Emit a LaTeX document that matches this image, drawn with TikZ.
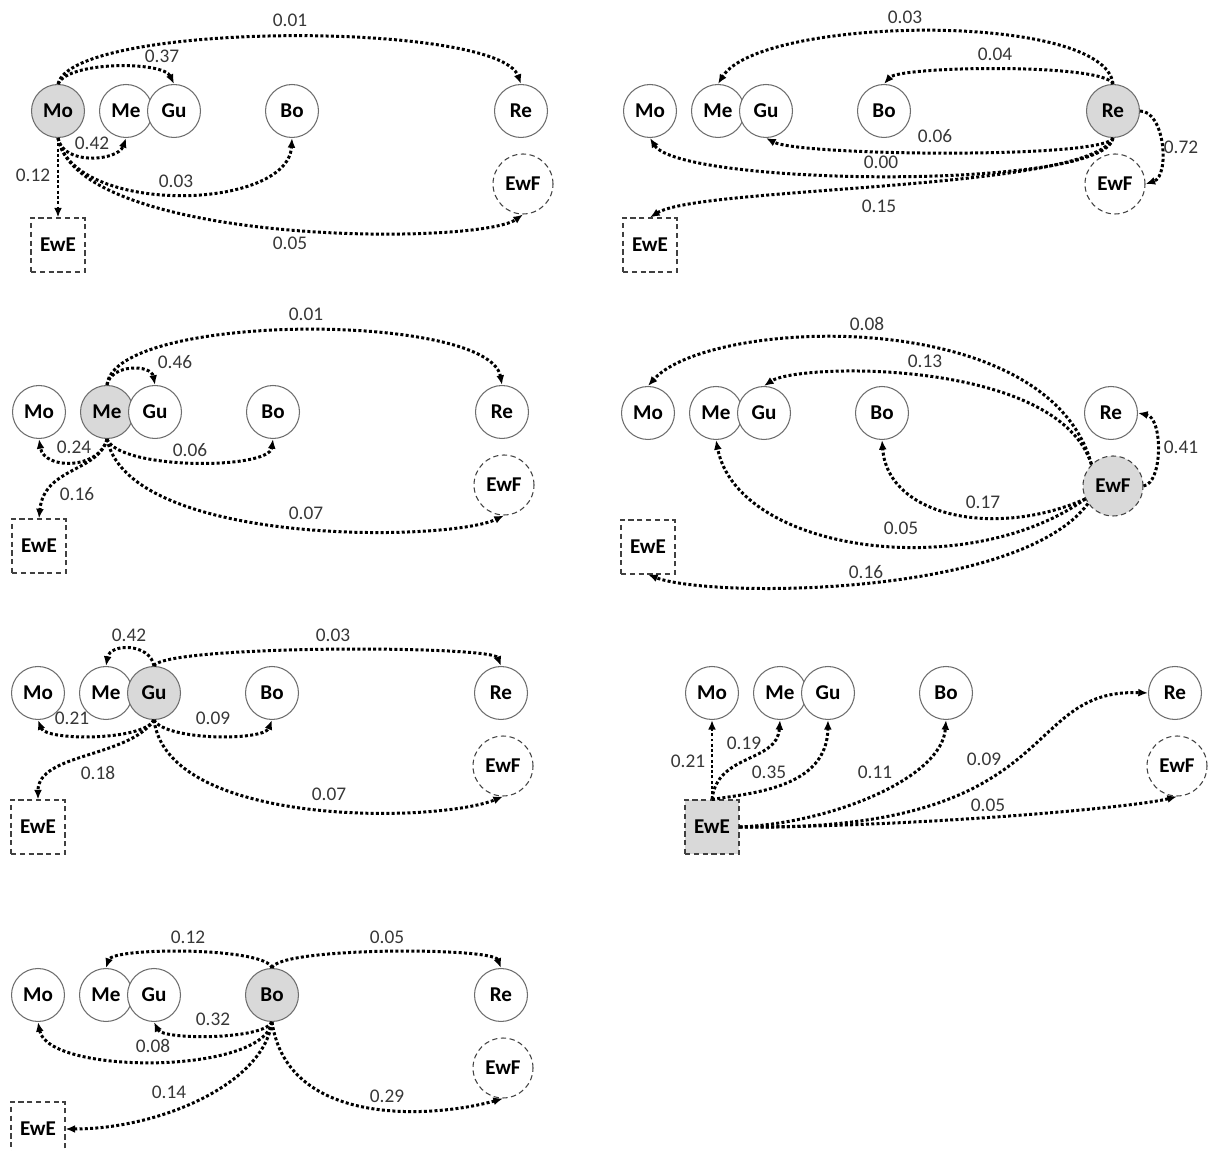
\documentclass[tikz,border=0pt]{standalone}
\usepackage{fontspec}
\setmainfont{Carlito}
\usepackage{tikz}
\usetikzlibrary{arrows.meta}
\usepackage{xcolor}
\definecolor{activecolor}{RGB}{217,217,217}
\definecolor{rimcolor}{RGB}{110,110,110}
\definecolor{probcolor}{RGB}{55,55,55}

\begin{document}
\begin{tikzpicture}[x=0.02cm, y=-0.02cm]
  \tikzset{
    site/.style={
      circle,
      draw=rimcolor,
      line width=0.6pt,
      minimum size=1.06cm,
      inner sep=0pt,
      fill=white,
      font=\bfseries\fontsize{12}{14}\selectfont
    },
    ewf/.style={
      site,
      draw=black!75,
      dash pattern=on 3pt off 2pt,
      minimum size=1.2cm
    },
    ewe/.style={
      rectangle,
      draw=black!75,
      line width=0.6pt,
      dash pattern=on 3pt off 2pt,
      minimum size=1.08cm,
      inner sep=0pt,
      fill=white,
      font=\bfseries\fontsize{12}{14}\selectfont
    },
    flow/.style={
      line width=1.7pt,
      dash pattern=on 1.7pt off 1.3pt,
      -{Latex[length=5.5pt,width=4.5pt]}
    },
    prob/.style={
      font=\fontsize{11}{13}\selectfont,
      text=probcolor,
      inner sep=1pt
    },
    stMo/.style={}, stMe/.style={}, stGu/.style={}, stBo/.style={},
    stRe/.style={}, stEwF/.style={}, stEwE/.style={}
  }

  \useasboundingbox (0,0) rectangle (1208,1151);

  % Transitions from Mo
  \begin{scope}[shift={(58,111)}, stMo/.style={fill=activecolor}]
    \foreach \n/\x in {Mo/0, Me/68, Gu/116, Bo/234, Re/463}
      \node[site, st\n] (a\n) at (\x,0) {\n};
    \node[ewf, stEwF] (aEwF) at (465,73) {EwF};
    \node[ewe, stEwE] (aEwE) at (0,134) {EwE};

    \draw[flow] (aMo.north) .. controls (15,-90) and (440,-90) .. (aRe.north);
    \draw[flow] (aMo.north) .. controls (10,-50) and (105,-50) .. (aGu.north);
    \draw[flow] (aMo.south) .. controls (5,55) and (60,50) .. (aMe.south);
    \draw[flow] (aMo.south) -- (aEwE.north);
    \draw[flow] (aMo.south) .. controls (15,105) and (230,100) .. (aBo.south);
    \draw[flow] (aMo.south) .. controls (20,135) and (420,135) .. (aEwF.south);

    \node[prob] (aMoRe) at (232,-91) {0.01};
    \node[prob] (aMoGu) at (104,-55) {0.37};
    \node[prob] (aMoMe) at (34,32) {0.42};
    \node[prob] (aMoEwE) at (-25,64) {0.12};
    \node[prob] (aMoBo) at (118,70) {0.03};
    \node[prob] (aMoEwF) at (232,132) {0.05};
  \end{scope}

  % Transitions from Re
  \begin{scope}[shift={(650,111)}, stRe/.style={fill=activecolor}]
    \foreach \n/\x in {Mo/0, Me/68, Gu/116, Bo/234, Re/463}
      \node[site, st\n] (b\n) at (\x,0) {\n};
    \node[ewf, stEwF] (bEwF) at (465,73) {EwF};
    \node[ewe, stEwE] (bEwE) at (0,134) {EwE};

    \draw[flow] (bRe.north) .. controls (455,-100) and (110,-95) .. (bMe.north);
    \draw[flow] (bRe.north) .. controls (455,-48) and (250,-45) .. (bBo.north);
    \draw[flow] (bRe.south) .. controls (455,48) and (150,45) .. (bGu.south);
    \draw[flow] (bRe.south) .. controls (455,80) and (30,75) .. (bMo.south);
    \draw[flow] (bRe.south) .. controls (440,80) and (50,75) .. (bEwE.north);
    \draw[flow] (bRe.east) .. controls (515,0) and (520,65) .. (bEwF.east);

    \node[prob] (bReMe) at (255,-94) {0.03};
    \node[prob] (bReBo) at (345,-57) {0.04};
    \node[prob] (bReGu) at (285,25) {0.06};
    \node[prob] (bReMo) at (231,51) {0.00};
    \node[prob] (bReEwE) at (229,95) {0.15};
    \node[prob] (bReEwF) at (531,36) {0.72};
  \end{scope}

  % Transitions from Me
  \begin{scope}[shift={(39,412)}, stMe/.style={fill=activecolor}]
    \foreach \n/\x in {Mo/0, Me/68, Gu/116, Bo/234, Re/463}
      \node[site, st\n] (c\n) at (\x,0) {\n};
    \node[ewf, stEwF] (cEwF) at (465,73) {EwF};
    \node[ewe, stEwE] (cEwE) at (0,134) {EwE};

    \draw[flow] (cMe.north) .. controls (75,-100) and (450,-100) .. (cRe.north);
    \draw[flow] (cMe.north) .. controls (72,-48) and (112,-48) .. (cGu.north);
    \draw[flow] (cMe.south) .. controls (60,58) and (5,58) .. (cMo.south);
    \draw[flow] (cMe.south) .. controls (80,58) and (230,58) .. (cBo.south);
    \draw[flow] (cMe.south) .. controls (60,60) and (5,55) .. (cEwE.north);
    \draw[flow] (cMe.south) .. controls (90,135) and (410,130) .. (cEwF.south);

    \node[prob] (cMeRe) at (267,-98) {0.01};
    \node[prob] (cMeGu) at (136,-50) {0.46};
    \node[prob] (cMeMo) at (35,35) {0.24};
    \node[prob] (cMeBo) at (151,38) {0.06};
    \node[prob] (cMeEwE) at (38,82) {0.16};
    \node[prob] (cMeEwF) at (267,101) {0.07};
  \end{scope}

  % Transitions from EwF
  \begin{scope}[shift={(648,413)}, stEwF/.style={fill=activecolor}]
    \foreach \n/\x in {Mo/0, Me/68, Gu/116, Bo/234, Re/463}
      \node[site, st\n] (d\n) at (\x,0) {\n};
    \node[ewf, stEwF] (dEwF) at (465,73) {EwF};
    \node[ewe, stEwE] (dEwE) at (0,134) {EwE};

    \draw[flow] (dEwF.135) .. controls (400,-110) and (60,-95) .. (dMo.north);
    \draw[flow] (dEwF.135) .. controls (410,-55) and (150,-50) .. (dGu.north);
    \draw[flow] (dEwF.east) .. controls (515,70) and (515,5) .. (dRe.east);
    \draw[flow] (dEwF.205) .. controls (350,125) and (240,105) .. (dBo.south);
    \draw[flow] (dEwF.205) .. controls (320,170) and (90,140) .. (dMe.south);
    \draw[flow] (dEwF.215) .. controls (370,185) and (60,185) .. (dEwE.south);

    \node[prob] (dEwFMo) at (219,-89) {0.08};
    \node[prob] (dEwFGu) at (277,-52) {0.13};
    \node[prob] (dEwFRe) at (533,34) {0.41};
    \node[prob] (dEwFBo) at (335,89) {0.17};
    \node[prob] (dEwFMe) at (253,115) {0.05};
    \node[prob] (dEwFEwE) at (218,159) {0.16};
  \end{scope}

  % Transitions from Gu
  \begin{scope}[shift={(38,693)}, stGu/.style={fill=activecolor}]
    \foreach \n/\x in {Mo/0, Me/68, Gu/116, Bo/234, Re/463}
      \node[site, st\n] (e\n) at (\x,0) {\n};
    \node[ewf, stEwF] (eEwF) at (465,73) {EwF};
    \node[ewe, stEwE] (eEwE) at (0,134) {EwE};

    \draw[flow] (eGu.north) .. controls (112,-50) and (72,-50) .. (eMe.north);
    \draw[flow] (eGu.north) .. controls (125,-48) and (455,-48) .. (eRe.north);
    \draw[flow] (eGu.south) .. controls (105,48) and (8,48) .. (eMo.south);
    \draw[flow] (eGu.south) .. controls (128,48) and (226,48) .. (eBo.south);
    \draw[flow] (eGu.south) .. controls (90,65) and (0,60) .. (eEwE.north);
    \draw[flow] (eGu.south) .. controls (130,135) and (400,130) .. (eEwF.south);

    \node[prob] (eGuMe) at (91,-58) {0.42};
    \node[prob] (eGuRe) at (295,-58) {0.03};
    \node[prob] (eGuMo) at (34,25) {0.21};
    \node[prob] (eGuBo) at (175,25) {0.09};
    \node[prob] (eGuEwE) at (60,80) {0.18};
    \node[prob] (eGuEwF) at (291,101) {0.07};
  \end{scope}

  % Transitions from EwE
  \begin{scope}[shift={(712,693)}, stEwE/.style={fill=activecolor}]
    \foreach \n/\x in {Mo/0, Me/68, Gu/116, Bo/234, Re/463}
      \node[site, st\n] (f\n) at (\x,0) {\n};
    \node[ewf, stEwF] (fEwF) at (465,73) {EwF};
    \node[ewe, stEwE] (fEwE) at (0,134) {EwE};

    \draw[flow] (fEwE.north) -- (fMo.south);
    \draw[flow] (fEwE.north) .. controls (5,60) and (65,70) .. (fMe.south);
    \draw[flow] (fEwE.north) .. controls (40,100) and (115,95) .. (fGu.south);
    \draw[flow] (fEwE.east) .. controls (120,130) and (230,85) .. (fBo.south);
    \draw[flow] (fEwE.east) .. controls (355,140) and (305,-5) .. (fRe.west);
    \draw[flow] (fEwE.east) .. controls (200,134) and (420,115) .. (fEwF.south);

    \node[prob] (fEwEMo) at (-24,68) {0.21};
    \node[prob] (fEwEMe) at (32,50) {0.19};
    \node[prob] (fEwEGu) at (57,79) {0.35};
    \node[prob] (fEwEBo) at (163,79) {0.11};
    \node[prob] (fEwERe) at (272,66) {0.09};
    \node[prob] (fEwEEwF) at (276,112) {0.05};
  \end{scope}

  % Transitions from Bo
  \begin{scope}[shift={(38,995)}, stBo/.style={fill=activecolor}]
    \foreach \n/\x in {Mo/0, Me/68, Gu/116, Bo/234, Re/463}
      \node[site, st\n] (g\n) at (\x,0) {\n};
    \node[ewf, stEwF] (gEwF) at (465,73) {EwF};
    \node[ewe, stEwE] (gEwE) at (0,134) {EwE};

    \draw[flow] (gBo.north) .. controls (228,-48) and (75,-48) .. (gMe.north);
    \draw[flow] (gBo.north) .. controls (240,-48) and (455,-48) .. (gRe.north);
    \draw[flow] (gBo.south) .. controls (225,45) and (125,45) .. (gGu.south);
    \draw[flow] (gBo.south) .. controls (225,80) and (10,80) .. (gMo.south);
    \draw[flow] (gBo.south) .. controls (225,90) and (120,134) .. (gEwE.east);
    \draw[flow] (gBo.south) .. controls (250,135) and (400,122) .. (gEwF.south);

    \node[prob] (gBoMe) at (150,-58) {0.12};
    \node[prob] (gBoRe) at (349,-58) {0.05};
    \node[prob] (gBoGu) at (175,24) {0.32};
    \node[prob] (gBoMo) at (115,51) {0.08};
    \node[prob] (gBoEwE) at (131,97) {0.14};
    \node[prob] (gBoEwF) at (349,101) {0.29};
  \end{scope}

\end{tikzpicture}
\end{document}
